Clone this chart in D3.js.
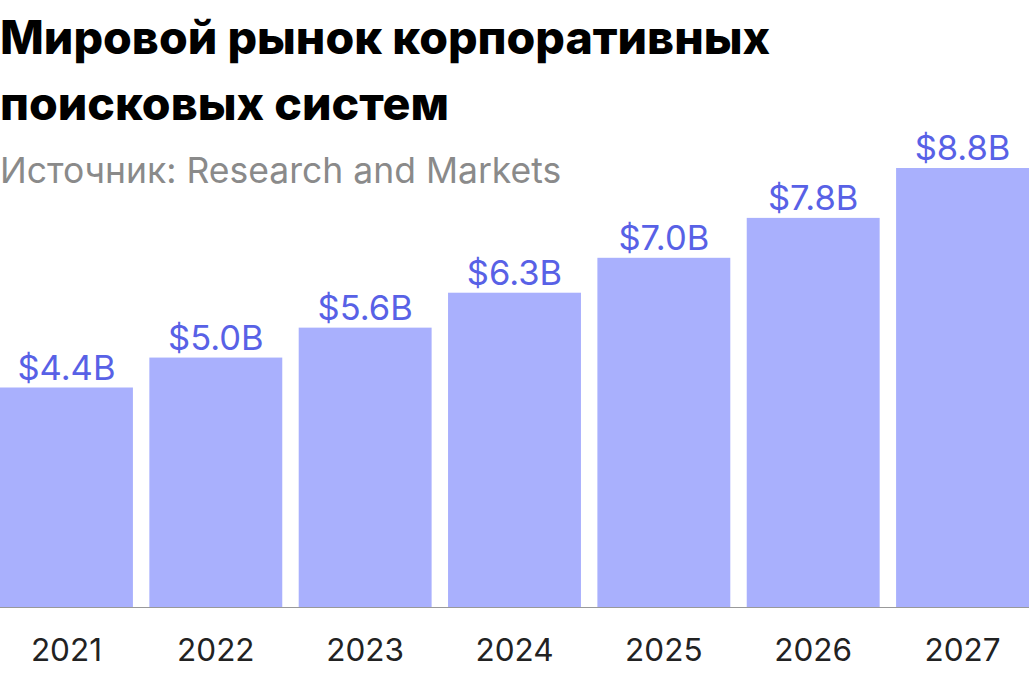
<!DOCTYPE html>
<html><head><meta charset="utf-8">
<script src="https://cdn.jsdelivr.net/npm/d3@7"></script>
<style>body{margin:0;background:#fff}</style>
</head><body><div id="chart"></div>
<script>
var years = ["2021","2022","2023","2024","2025","2026","2027"];
var values = [4.4, 5.0, 5.6, 6.3, 7.0, 7.8, 8.8];
var labels = ["$4.4B","$5.0B","$5.6B","$6.3B","$7.0B","$7.8B","$8.8B"];

var width = 1029, height = 700, baseY = 607;

var svg = d3.select("#chart").append("svg")
	.attr("width", width).attr("height", height)
	.style("font-family", "Inter, 'Noto Sans', sans-serif");

var x = d3.scaleBand().domain(years).range([0, width]).paddingInner(0.11).paddingOuter(0);
var y = d3.scaleLinear().domain([0, 8.8]).range([baseY, 168]);

svg.selectAll("rect.bar").data(values).enter().append("rect")
	.attr("x", function(d, i) { return x(years[i]); })
	.attr("y", function(d) { return y(d); })
	.attr("width", x.bandwidth())
	.attr("height", function(d) { return baseY - y(d); })
	.attr("fill", "#a9b0fd");

svg.selectAll("text.val").data(values).enter().append("text")
	.attr("x", function(d, i) { return x(years[i]) + x.bandwidth() / 2; })
	.attr("y", function(d) { return y(d) - 8; })
	.attr("text-anchor", "middle")
	.attr("font-size", 34.5)
	.attr("fill", "#5861e6")
	.text(function(d, i) { return labels[i]; });

svg.append("line").attr("x1", 0).attr("x2", width)
	.attr("y1", baseY + 0.5).attr("y2", baseY + 0.5)
	.attr("stroke", "#999").attr("stroke-width", 1);

svg.selectAll("text.year").data(years).enter().append("text")
	.attr("x", function(d) { return x(d) + x.bandwidth() / 2; })
	.attr("y", 661)
	.attr("text-anchor", "middle")
	.attr("font-size", 31.5)
	.attr("fill", "#222")
	.text(function(d) { return d; });

svg.append("text").attr("x", 0).attr("y", 54)
	.attr("font-size", 46.5).attr("font-weight", 800).attr("fill", "#000")
	.text("Мировой рынок корпоративных");
svg.append("text").attr("x", 0).attr("y", 120)
	.attr("font-size", 46.5).attr("font-weight", 800).attr("fill", "#000")
	.text("поисковых систем");
svg.append("text").attr("x", 0).attr("y", 183)
	.attr("font-size", 35.5).attr("fill", "#8a8a8a")
	.text("Источник: Research and Markets");
</script></body></html>
